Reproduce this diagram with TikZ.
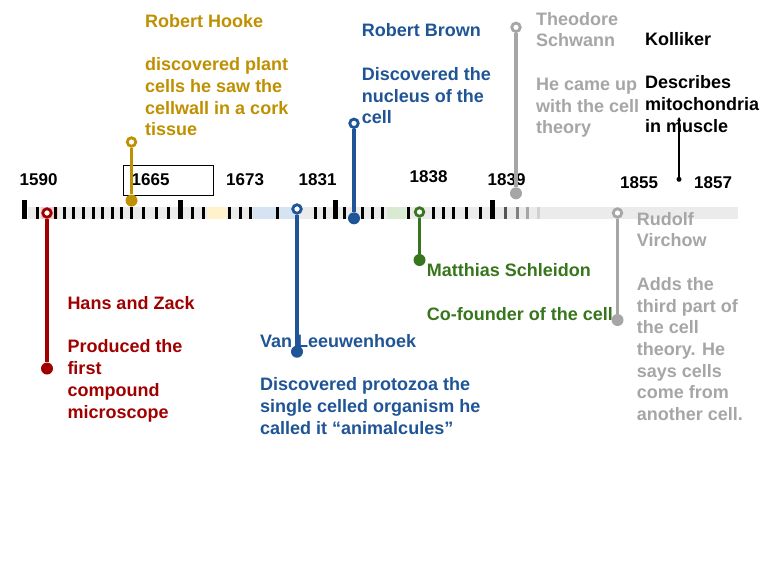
\documentclass[tikz,border=0pt]{standalone}
\usepackage{fontspec}
\setmainfont{Liberation Sans}
\usetikzlibrary{arrows.meta}
\definecolor{cgold}{HTML}{BF9000}
\definecolor{cred}{HTML}{A00000}
\definecolor{cblue}{HTML}{1F5596}
\definecolor{cgreen}{HTML}{38761D}
\definecolor{cgray}{HTML}{A6A6A6}
\definecolor{barbg}{HTML}{EBEBEB}
\definecolor{hred}{HTML}{F4CCCC}
\definecolor{hyel}{HTML}{FFF2CC}
\definecolor{hblue}{HTML}{D6E3F3}
\definecolor{hgreen}{HTML}{D9EAD3}
\begin{document}
\begin{tikzpicture}[x=1pt,y=-1pt,
  txt/.style={anchor=north west, inner sep=0pt, align=left, font=\fontsize{18}{21.7}\selectfont\bfseries},
  yr/.style={anchor=base west, inner sep=0pt, font=\fontsize{17}{20}\selectfont\bfseries},
  ocirc/.style={circle, draw=#1, fill=white, line width=2.8pt, minimum size=8.5pt, inner sep=0pt},
  fdot/.style={circle, fill=#1, minimum size=12pt, inner sep=0pt},
  conn/.style={draw=#1, line width=3.3pt}]
\useasboundingbox[fill=white] (0,0) rectangle (768,576);

% bar
\fill[barbg] (28,207) rectangle (738,219);
\fill[hred] (41,207) rectangle (58,219);
\fill[hyel] (207,207) rectangle (227,219);
\fill[hblue] (253,207) rectangle (297,219);
\fill[hgreen] (387,207) rectangle (406,219);
\foreach \x in {37,55,64,73,83,93,102,112,121,131,143,156,168,192,203,229,240,250,277,315,324,344,362,372,382,408,433,443,453,466,480}
  \fill[black] ({\x-1.5},207) rectangle ({\x+1.5},219);
\foreach \x in {24,180,335,492}
  \fill[black] ({\x-2.5},200) rectangle ({\x+2.5},219);
\fill[black!67] (503.5,207) rectangle (506.5,219);
\fill[black!50] (515.5,207) rectangle (518.5,219);
\fill[black!35] (525.5,207) rectangle (528.5,219);
\fill[black!18] (536.5,207) rectangle (539.5,219);

% years
\node[draw=black, line width=0.8pt, minimum width=90pt, minimum height=30pt, inner sep=0pt] (box1665) at (168,180) {};
\node[yr] (y1590) at (19.5,185) {1590};
\node[yr] (y1665) at (131.5,185) {1665};
\node[yr] (y1673) at (226,185) {1673};
\node[yr] (y1831) at (298.5,185) {1831};
\node[yr] (y1838) at (409.5,182.7) {1838};
\node[yr] (y1839) at (487.5,185) {1839};
\node[yr] (y1855) at (620,188.3) {1855};
\node[yr] (y1857) at (694,188.3) {1857};

% texts
\node[txt, text=cgold] (thooke) at (145,14) {Robert Hooke\\[21.7pt]discovered plant\\cells he saw the\\cellwall in a cork\\tissue};
\node[txt, text=cred] (thans) at (67.3,296.3) {Hans and Zack\\[21.7pt]Produced the\\first\\compound\\microscope};
\node[txt, text=cblue] (tleeu) at (260,334.3) {Van Leeuwenhoek\\[21.7pt]Discovered protozoa the\\single celled organism he\\called it ``animalcules''};
\node[txt, text=cblue] (tbrown) at (361.7,23.7) {Robert Brown\\[21.7pt]Discovered the\\nucleus of the\\cell};
\node[txt, text=cgreen] (tschl) at (426.7,263.7) {Matthias Schleidon\\[21.7pt]Co-founder of the cell};
\node[txt, text=cgray] (tschw) at (536,12) {Theodore\\Schwann\\[21.7pt]He came up\\with the cell\\theory};
\node[txt, text=cgray] (trud) at (636.7,212) {Rudolf\\Virchow\\[21.7pt]Adds the\\third part of\\the cell\\theory. He\\says cells\\come from\\another cell.};
\node[txt, text=black] (tkoll) at (645,32) {Kolliker\\[21.7pt]Describes\\mitochondria\\in muscle};

% markers
\node[ocirc=cgold] (hookeO) at (131.5,142) {};
\node[fdot=cgold] (hookeD) at (131.5,200.5) {};
\node[ocirc=cred] (hansO) at (47,213) {};
\node[fdot=cred] (hansD) at (47,368.5) {};
\node[ocirc=cblue] (leeuO) at (297,209) {};
\node[fdot=cblue] (leeuD) at (297,351.7) {};
\node[ocirc=cblue] (brownO) at (354,123.3) {};
\node[fdot=cblue] (brownD) at (354,218.3) {};
\node[ocirc=cgreen] (schlO) at (419.5,212) {};
\node[fdot=cgreen] (schlD) at (419.5,260) {};
\node[ocirc=cgray] (schwO) at (516,27.3) {};
\node[fdot=cgray] (schwD) at (516,193.3) {};
\node[ocirc=cgray] (rudO) at (617.5,213) {};
\node[fdot=cgray] (rudD) at (617.5,320) {};
\node[circle, fill=black, minimum size=5pt, inner sep=0pt] (kollD) at (679,179.3) {};
\coordinate (kollT) at (679,117);

% connectors
\draw[conn=cgold] (hookeO) -- (hookeD);
\draw[conn=cred] (hansO) -- (hansD);
\draw[conn=cblue] (leeuO) -- (leeuD);
\draw[conn=cblue] (brownO) -- (brownD);
\draw[conn=cgreen] (schlO) -- (schlD);
\draw[conn=cgray] (schwO) -- (schwD);
\draw[conn=cgray] (rudO) -- (rudD);
\draw[line width=1.3pt, -{Stealth[length=4pt,width=4pt]}] (kollD) -- (kollT);
\end{tikzpicture}
\end{document}
